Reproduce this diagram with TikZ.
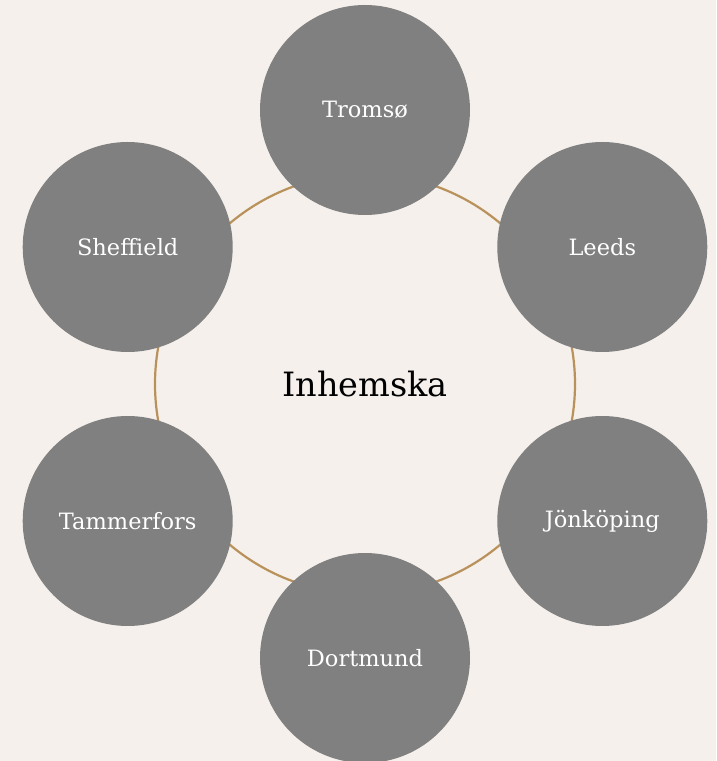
\documentclass[tikz,border=0pt]{standalone}
\usepackage{fontspec}
\setmainfont{DejaVu Serif}
\usetikzlibrary{positioning}

\definecolor{paper}{HTML}{F5F0EC}
\definecolor{ring}{HTML}{B8925A}
\definecolor{disc}{HTML}{808080}

\tikzset{
	hub/.style={circle, draw=ring, line width=2.2pt, minimum size=420pt, inner sep=0pt, font=\fontsize{33.5}{40}\selectfont},
	city/.style={circle, fill=disc, minimum size=210pt, inner sep=0pt, text=white, font=\fontsize{22.5}{27}\selectfont}
}

\begin{document}
\begin{tikzpicture}[x=1pt,y=1pt]
	\fill[paper] (0,0) rectangle (716,761);
	\useasboundingbox (0,0) rectangle (716,761);
	\node[hub] (H) at (365,377) {Inhemska};
	\path (H.center) ++(90:274) node[city] (C1) {Tromsø};
	\path (H.center) ++(30:274) node[city] (C2) {Leeds};
	\path (H.center) ++(-30:274) node[city] (C3) {Jönköping};
	\path (H.center) ++(-90:274) node[city] (C4) {Dortmund};
	\path (H.center) ++(210:274) node[city] (C5) {Tammerfors};
	\path (H.center) ++(150:274) node[city] (C6) {Sheffield};
\end{tikzpicture}
\end{document}
